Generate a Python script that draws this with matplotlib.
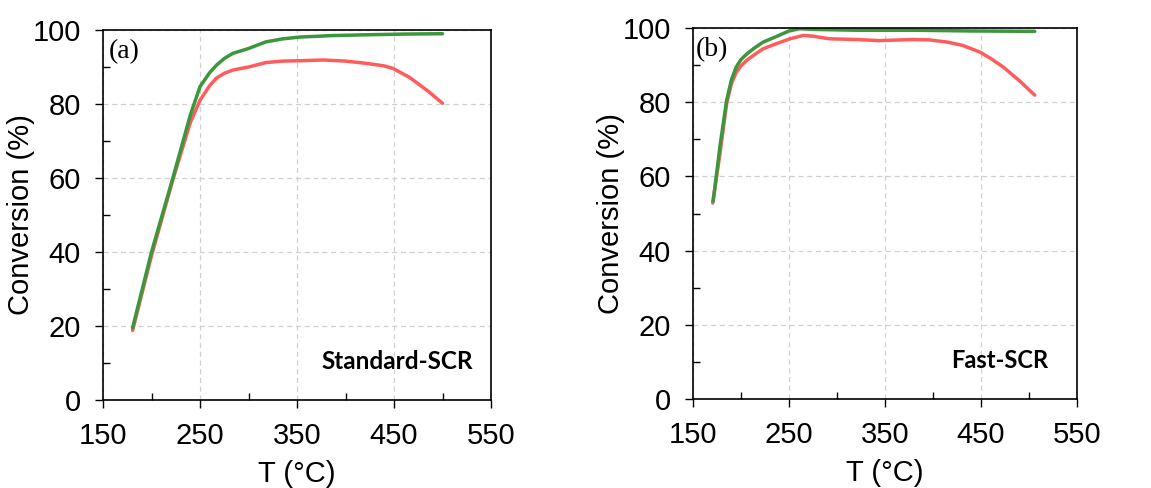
import numpy as np
import matplotlib.pyplot as plt
from matplotlib.ticker import FixedLocator

# (a) Standard-SCR
t_a_green = [180.5, 200, 222, 240, 250, 260, 267, 275, 284, 300, 318, 335, 353, 387, 420, 460, 500]
x_a_green = [19.5, 40, 60, 77, 84.7, 88.5, 90.5, 92.3, 93.7, 95.0, 96.8, 97.6, 98.1, 98.5, 98.7, 98.9, 99.0]
t_a_red = [180.5, 200, 222, 240, 250, 260, 267, 275, 284, 300, 318, 335, 353, 377, 400, 421, 440, 449, 466, 485, 500]
x_a_red = [18.8, 39, 59.5, 75, 81, 85, 87, 88.3, 89.2, 90.0, 91.2, 91.6, 91.7, 91.9, 91.6, 91.0, 90.3, 89.6, 87.2, 83.5, 80.2]

# (b) Fast-SCR
t_b_green = [171, 178, 185, 190, 195, 200, 206, 215, 223, 235, 250, 261, 280, 320, 380, 440, 506]
x_b_green = [53.3, 68, 80.5, 86, 89.5, 91.5, 93, 94.8, 96.2, 97.5, 99.2, 99.8, 99.6, 99.4, 99.4, 99.2, 99.1]
t_b_red = [170.5, 178, 185, 190, 195, 200, 206, 215, 223, 235, 251, 265, 275, 292, 320, 344, 379, 396, 415, 431, 449, 460, 473, 490, 506]
x_b_red = [52.8, 66, 79.6, 85, 88, 89.8, 91.3, 93, 94.4, 95.6, 97.1, 98.0, 97.8, 97.1, 96.9, 96.6, 96.9, 96.8, 96.2, 95.3, 93.5, 91.8, 89.5, 85.8, 81.9]

x_major = [150, 250, 350, 450, 550]
x_minor = [200, 300, 400, 500]
y_major = [0, 20, 40, 60, 80, 100]
y_minor = [10, 30, 50, 70, 90]

GREEN = "#3c963c"
RED = "#ff5c5c"

plt.rcParams['font.family'] = ['Liberation Sans', 'DejaVu Sans']

fig = plt.figure(figsize=(11.51, 4.88), dpi=100)
ax1 = fig.add_axes([0.0895, 0.1803, 0.3371, 0.7582])
ax2 = fig.add_axes([0.6021, 0.1824, 0.3336, 0.7602])

panels = [
    (ax1, t_a_green, x_a_green, t_a_red, x_a_red, "(a)", 0.015, "Standard-SCR", 17.5, 0.954),
    (ax2, t_b_green, x_b_green, t_b_red, x_b_red, "(b)", 0.006, "Fast-SCR", 17, 0.924),
]

for ax, tg, xg, tr, xr, tag, tag_x, name, name_fs, name_x in panels:
    ax.plot(tr, xr, color=RED, lw=2.5, solid_capstyle='round', solid_joinstyle='round')
    ax.plot(tg, xg, color=GREEN, lw=2.5, solid_capstyle='round', solid_joinstyle='round')
    ax.set_xlim(150, 550)
    ax.set_ylim(0, 100)
    ax.xaxis.set_major_locator(FixedLocator(x_major))
    ax.xaxis.set_minor_locator(FixedLocator(x_minor))
    ax.yaxis.set_major_locator(FixedLocator(y_major))
    ax.yaxis.set_minor_locator(FixedLocator(y_minor))
    ax.tick_params(which='major', direction='out', length=6, width=1, labelsize=21, pad=10, color='black')
    ax.tick_params(which='minor', direction='in', length=5, width=1, color='black')
    ax.grid(True, which='major', color='#d0d0d0', linestyle=(0, (4, 3)), linewidth=0.9)
    ax.set_axisbelow(True)
    for s in ax.spines.values():
        s.set_color('black')
        s.set_linewidth(1.2)
    ax.set_xlabel("T (°C)", fontsize=21, labelpad=7)
    ax.set_ylabel("Conversion (%)", fontsize=21, labelpad=-2)
    ax.text(tag_x, 0.975, tag, transform=ax.transAxes, ha='left', va='top',
            fontsize=20, family='Liberation Serif')
    ax.text(name_x, 0.084, name, transform=ax.transAxes, ha='right', va='baseline',
            fontsize=name_fs, fontweight='bold', family='Lato')

fig.savefig("out.png", dpi=100)
